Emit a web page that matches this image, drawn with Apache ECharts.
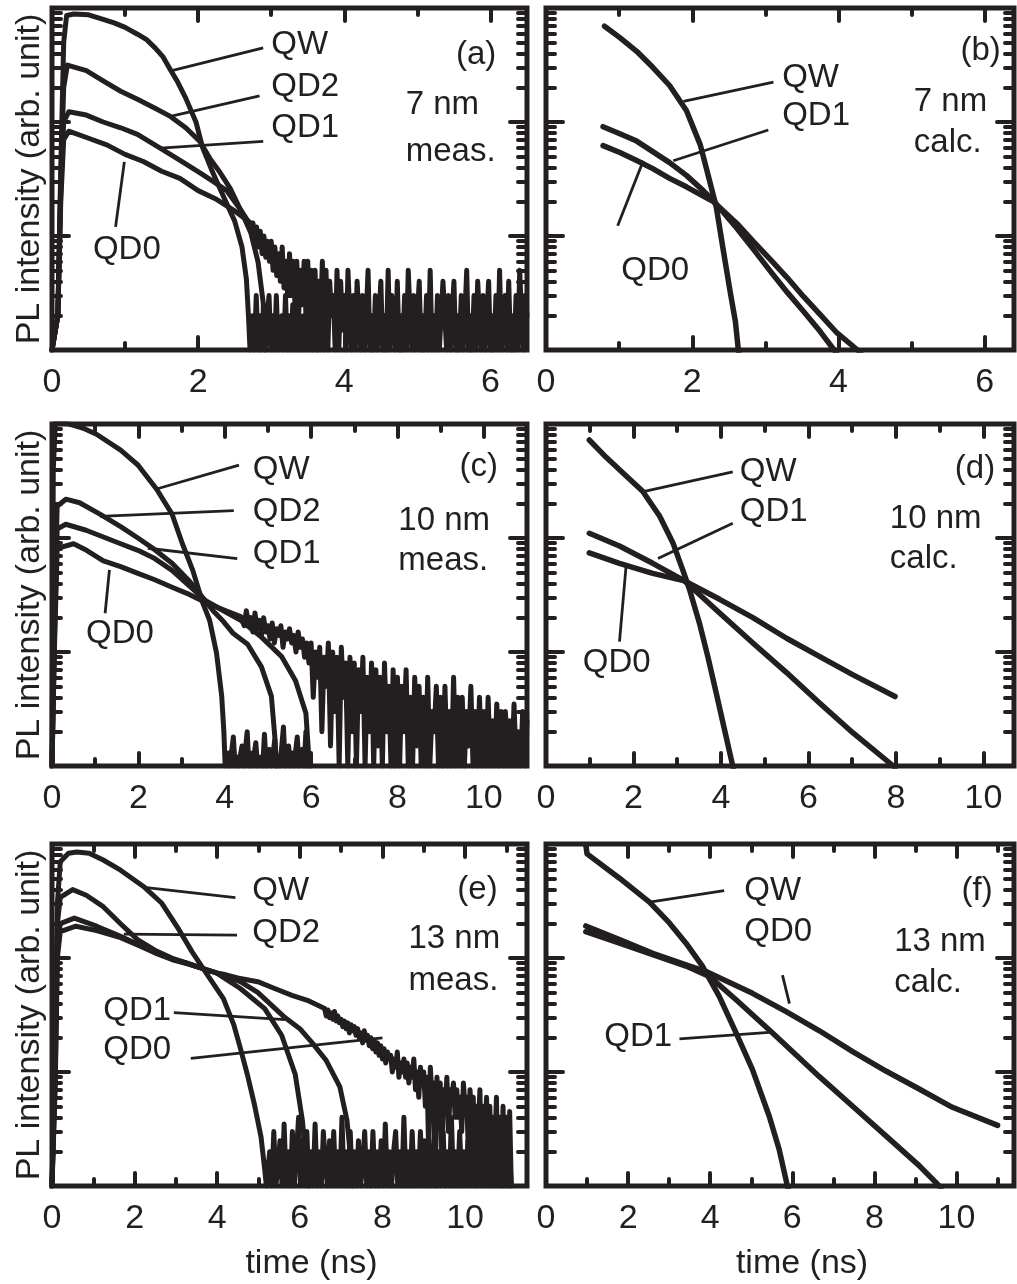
<!DOCTYPE html>
<html><head><meta charset="utf-8">
<script src="https://cdn.jsdelivr.net/npm/echarts@6/dist/echarts.min.js"></script>
<style>html,body{margin:0;padding:0;background:#fff}#c{width:1017px;height:1284px}</style>
</head><body><div id="c"></div>
<script>
// ---------------- DATA (time in ns, PL intensity in arb. units) ----------------
// (a) 7 nm, measured
const a_QW  = [[0,1],[0.08,2],[0.12,40],[0.16,500],[0.2,860],[0.3,885],[0.5,871],[0.7,794],[0.85,741],[1.0,676],[1.17,589],[1.3,525],[1.41,447],[1.52,372],[1.62,288],[1.72,224],[1.83,162],[1.97,100],[2.06,60],[2.2,36],[2.35,22],[2.5,13.5],[2.6,8],[2.66,4.2],[2.69,1.9],[2.71,1]];
const a_QW_floor_t0 = 2.72, a_QW_floor_dt = 0.025;
const a_QW_floor = [1,2,1,3,1,2,1,2.5,1,2,3,1,2,1,3,1,1.5,2,1,3,1,2,1,2.5,1,3,1,2,1,2,1,3,1,2,1,2.5,1,2,1,3];
const a_QD2 = [[0,1],[0.08,2],[0.12,30],[0.16,200],[0.21,316],[0.47,282],[0.7,229],[0.94,186],[1.17,158],[1.41,132],[1.62,112],[1.83,89],[2.02,68],[2.16,48],[2.3,36],[2.44,26],[2.58,17],[2.72,10.7],[2.82,5.9],[2.89,2.6],[2.91,1]];
const a_QD1 = [[0,1],[0.08,2],[0.12,25],[0.16,100],[0.23,123],[0.47,115],[0.7,100],[0.94,89],[1.17,78],[1.48,59],[1.78,45],[2.02,36],[2.21,30],[2.39,25],[2.58,17],[2.7,13],[2.82,10]];
const a_QD0 = [[0,1],[0.08,2],[0.12,20],[0.16,70],[0.23,83],[0.5,72],[0.75,63],[1.0,52],[1.25,45],[1.5,37],[1.75,32],[2.0,25],[2.25,21],[2.5,16.6],[2.72,13]];
const a_QD0_tail_t0 = 2.75, a_QD0_tail_dt = 0.025;
const a_QD0_tail = [13,9,12,8,11,7,10,6.5,9,6, 9,5,8,4.5,7,4,8,3.5,6,3, 7,3,6,2.5,6,2,5,2.5,6,2, 6,1.5,5,2,5,1,4,2,6,1, 5,1,4,2,3,1,5,1,4,1.5, 3,1,5,2,1,3,1,4,2,1, 3,1,2,5,1,2,1,3,1,2, 4,1,2,1,5,1,3,2,1,4, 1,2,1,3,1,5,2,1,3,1, 2,4,1,2,1,3,1,5,1,2, 1,3,1,1,4,2,1,3,1,2, 4,1,2,1,3,1,2,5,1,2, 1,3,1,4,2,1,3,1,2,4, 1,2,1,3,1,5,1,2,3,1, 4,1,2,1,3,1,5,2,1,3,2];

// (b) 7 nm, calculated
const b_QW  = [[0.80,692],[1.01,550],[1.24,417],[1.46,302],[1.69,209],[1.92,126],[2.11,63],[2.24,30],[2.33,17.8],[2.42,7.8],[2.52,3.2],[2.59,1.78],[2.63,1],[2.66,0.7]];
const b_QD1 = [[0.78,91],[1.01,79],[1.24,68],[1.46,55],[1.69,44],[1.92,34],[2.15,25],[2.29,20.4],[2.61,11.7],[2.84,7.6],[3.07,4.9],[3.30,3.2],[3.52,2.19],[3.75,1.45],[3.94,1],[4.0,0.88]];
const b_QD0 = [[0.78,62],[1.01,54],[1.24,46],[1.46,39],[1.69,32],[1.92,27],[2.15,22.4],[2.29,20],[2.61,12.9],[2.84,8.9],[3.07,6.2],[3.30,4.3],[3.52,2.95],[3.75,2.04],[3.98,1.41],[4.26,1],[4.3,0.95]];

// (c) 10 nm, measured
const c_QW  = [[0,1],[0.03,400],[0.08,1100],[0.3,1020],[0.5,975],[0.75,910],[1.03,813],[1.59,589],[1.99,437],[2.42,269],[2.78,162],[3.02,89],[3.26,52],[3.49,27],[3.65,19],[3.81,9.8],[3.93,4.1],[3.98,2],[4.01,1]];
const c_QW_floor_t0 = 4.04, c_QW_floor_dt = 0.04;
const c_QW_floor = [1,1.3,1,1,1.8,1,1.2,1,1,1.5,1,1,2,1,1.3,1,1,1.6,1,1,1.2,1,1.9,1,1,1.4,1,1,1.7,1,1.2,1,1,2.2,1,1,1.5,1,1.3,1,1,1.8,1,1,1.4,1,2,1,1.2,1];
const c_QD2 = [[0,1],[0.06,25],[0.12,190],[0.32,219],[0.64,204],[1.11,162],[1.59,126],[1.99,100],[2.38,79],[2.78,60],[3.18,42],[3.57,27.5],[3.73,23],[3.97,18.5],[4.2,14.5],[4.53,11.7],[4.85,7.4],[5.08,4.1],[5.16,1.8],[5.2,1]];
const c_QD1 = [[0,1],[0.06,15],[0.12,120],[0.32,132],[0.79,117],[1.19,102],[1.59,89],[1.99,78],[2.38,66],[2.78,52],[3.18,38],[3.57,28],[3.97,23],[4.37,19],[4.85,13.5],[5.32,9.1],[5.64,5.6],[5.88,2.9],[5.96,1]];
const c_QD0 = [[0,1],[0.06,12],[0.12,81],[0.5,89],[0.8,78],[1.19,63],[1.59,56],[1.99,49],[2.38,43],[2.78,37],[3.18,32],[3.57,27],[3.97,23.5],[4.37,20.5]];
const c_QD0_tail_t0 = 4.4, c_QD0_tail_dt = 0.05;
const c_QD0_tail = [21,17,23,18,20,15,22,16,19,14,20,15, 17,13,18,12,16,14,17,11,15,13,16,12, 14,10,15,11,13,9,12,8, 12,4,10,6,11,2,9,5,12,1.5, 10,3,9,1,11,4,8,1,9,2, 8,1,7,3,9,1,6,2,8,1, 7,1.5,6,1,8,2,5,1,7,1, 6,1,5,2,7,1,4,1,6,1.5, 5,1,4,1,6,1,3,2,5,1, 4,1,5,1,3,1,6,1,4,1, 4,1,3,1.5,5,1,3,1,4,1, 3,1,4,1,2.5,1,3.5,1,3,1, 3,1,2.5,1,3.5,1,2,1,3,1,2.5];

// (d) 10 nm, calculated
const d_QW  = [[0.99,724],[1.37,513],[1.76,372],[2.21,257],[2.60,155],[2.90,91],[3.13,52],[3.28,35.5],[3.51,17.8],[3.70,9.1],[3.89,4.4],[4.08,2.1],[4.27,1],[4.3,0.9]];
const d_QD1 = [[0.99,110],[1.68,85],[2.44,60],[3.17,42],[3.97,22],[4.73,12],[5.50,6.6],[6.26,3.55],[7.02,1.95],[7.94,1],[7.98,0.97]];
const d_QD0 = [[0.99,74],[1.68,60],[2.44,49],[3.17,42],[3.97,29],[4.73,20],[5.50,13.2],[6.26,9.1],[7.02,6.3],[7.98,4.07]];

// (e) 13 nm, measured
const e_QW  = [[0,1],[0.08,20],[0.13,300],[0.2,700],[0.4,830],[0.6,850],[0.9,830],[1.24,724],[1.66,589],[2.24,417],[2.66,302],[3.07,178],[3.40,112],[3.73,74],[4.15,44],[4.40,26],[4.56,16.2],[4.73,9.5],[4.9,5.2],[5.06,2.7],[5.15,1.4],[5.19,1]];
const e_QW_floor_t0 = 5.22, e_QW_floor_dt = 0.05;
const e_QW_floor = [1,2,1,3,1,1.5,2.5,1,3.5,1, 2,1,3,1,2,4,1,2.5,1,3, 1,2,1,3.5,1,2,1,3,1.5,1, 2.5,1,3,1,2,1,4,1,2,1, 3,1,2,1,2.5,1,1.5,3,1,2, 1,3,1,2,1,2.5,1,3.5,1,2, 1,2,3,1,2,1,4,1,2,1, 3,1,2,1,3,1,2.5,1,2,1, 2,3,1,2,1,3,1,2,1,4, 1,2,1,3,1,2,1,2.5,1,3, 1,2,1,3.5,1,2,1,3,1,2, 1,3,1,2,1,4,1,2,1];
const e_QD2 = [[0,1],[0.08,15],[0.13,200],[0.2,340],[0.5,398],[0.83,355],[1.24,282],[1.66,200],[2.07,145],[2.49,117],[2.9,100],[3.32,89],[3.73,79],[3.98,74],[4.56,54],[5.15,36],[5.56,21],[5.89,9.5],[6.06,3.8],[6.14,1.95],[6.2,1]];
const e_QD1 = [[0,1],[0.08,10],[0.13,130],[0.2,200],[0.54,224],[1.08,190],[1.66,155],[2.07,132],[2.49,112],[2.9,98],[3.32,89],[3.73,79],[3.98,74],[4.56,62],[4.98,50],[5.64,30],[6.0,24],[6.3,18],[6.64,12.6],[6.97,7.4],[7.14,3.8],[7.22,1.95],[7.26,1]];
const e_QD0 = [[0,1],[0.08,8],[0.13,100],[0.2,170],[0.58,190],[1.08,174],[1.66,151],[2.07,130],[2.49,111],[2.9,97],[3.32,88],[3.73,79],[3.98,74],[4.15,72],[4.56,66],[4.98,62],[5.39,54],[5.81,47],[6.22,42]];
const e_QD0_tail_t0 = 6.6, e_QD0_tail_dt = 0.04;
const e_QD0_tail = [36,31,35,30,33,29,34,28,31,27, 29,25,28,24,27,22,26,23,25,21, 24,20,22,18,23,19,21,17,20,16, 19,15,18,14,17,13,16,12,15,13, 14,10,13,11,15,9,12,10,13,9, 12,8,11,9,13,7,10,6,11,8, 10,5,9,2,11,6,8,1,9,4, 8,1.5,7,5,9,3,7,6,8,4, 7,4,6,3,8,5,6,2,7,4, 6,1,5,3,7,1,5,2,6,1, 5,1,4,2,6,1,4,1,5,1, 4,1,4.5,1];

// (f) 13 nm, calculated
const f_QW  = [[0.97,980],[1.0,820],[1.79,501],[2.52,309],[3.0,204],[3.41,135],[3.81,85],[4.22,46],[4.63,22],[5.03,10.5],[5.44,4.07],[5.68,2.09],[5.88,1],[5.92,0.9]];
const f_QD0 = [[0.97,191],[1.79,145],[2.60,110],[3.41,87],[3.90,76],[5.03,49],[5.84,34],[6.66,23],[7.47,15.1],[8.28,10.2],[9.09,7.1],[9.90,4.9],[11.0,3.4]];
const f_QD1 = [[0.97,170],[1.79,135],[2.60,107],[3.41,85],[3.98,69],[4.63,43],[5.52,22],[6.66,9.1],[7.47,5.0],[8.28,2.75],[9.09,1.51],[9.58,1],[9.62,0.95]];

// tick values
const xLabels6 = [0,2,4,6];
const xLabels10 = [0,2,4,6,8,10];
const yMajor = [1,10,100,1000];
const yMinor = [2,3,4,5,6,7,8,9,20,30,40,50,60,70,80,90,200,300,400,500,600,700,800,900];

// annotations: [text, time, log10(intensity), align] and leader lines [t1, log1, t2, log2]
const notes = {
  a:[['QW',3.0,2.68,'left'],['QD2',3.0,2.31,'left'],['QD1',3.0,1.95,'left'],['QD0',0.56,0.88,'left'],['(a)',6.08,2.59,'right'],['7 nm',4.84,2.15,'left'],['meas.',4.84,1.74,'left']],
  b:[['QW',3.23,2.39,'left'],['QD1',3.23,2.05,'left'],['QD0',1.03,0.69,'left'],['(b)',6.22,2.62,'right'],['7 nm',5.03,2.18,'left'],['calc.',5.03,1.82,'left']],
  c:[['QW',4.65,2.60,'left'],['QD2',4.65,2.23,'left'],['QD1',4.65,1.86,'left'],['QD0',0.79,1.16,'left'],['(c)',10.33,2.62,'right'],['10 nm',8.02,2.15,'left'],['meas.',8.02,1.80,'left']],
  d:[['QW',4.43,2.58,'left'],['QD1',4.43,2.23,'left'],['QD0',0.84,0.90,'left'],['(d)',10.27,2.61,'right'],['10 nm',7.86,2.17,'left'],['calc.',7.86,1.82,'left']],
  e:[['QW',4.85,2.59,'left'],['QD2',4.85,2.22,'left'],['QD1',1.24,1.54,'left'],['QD0',1.24,1.19,'left'],['(e)',10.79,2.60,'right'],['13 nm',8.63,2.17,'left'],['meas.',8.63,1.80,'left']],
  f:[['QW',4.83,2.59,'left'],['QD0',4.83,2.23,'left'],['QD1',1.42,1.31,'left'],['(f)',10.88,2.59,'right'],['13 nm',8.48,2.14,'left'],['calc.',8.48,1.78,'left']]
};
const leaders = {
  a:[[2.89,2.65,1.64,2.45],[2.84,2.23,1.62,2.05],[2.89,1.83,1.48,1.77],[0.87,1.08,0.99,1.65]],
  b:[[3.11,2.35,1.88,2.18],[3.04,1.93,1.74,1.66],[0.98,1.09,1.33,1.66]],
  c:[[4.33,2.64,2.42,2.43],[4.21,2.24,1.11,2.19],[4.29,1.82,2.22,1.91],[1.23,1.34,1.33,1.72]],
  d:[[4.27,2.58,2.25,2.41],[4.27,2.13,2.56,1.82],[1.68,1.09,1.83,1.75]],
  e:[[4.44,2.53,2.24,2.62],[4.48,2.20,1.74,2.21],[2.95,1.52,5.64,1.46],[3.36,1.12,8.0,1.30]],
  f:[[4.34,2.59,2.52,2.49],[5.76,1.85,5.93,1.60],[3.25,1.29,5.52,1.35]]
};

// ---------------- BUILD ----------------
function withTail(pts, t0, dt, vals){ return pts.concat(vals.map((v,i)=>[+(t0+i*dt).toFixed(4), v])); }

const FONT = '"Liberation Sans", Arial, Helvetica, sans-serif';
const INK = '#231f20';
const ROWS = [[8,350],[424,766],[844,1186]];
const COLS = [[52,527],[546,1014]];

const panels = [
  {key:'a', row:0, col:0, xMax:6.5, xl:xLabels6, lw:5, data:[withTail(a_QW,a_QW_floor_t0,a_QW_floor_dt,a_QW_floor), a_QD2, a_QD1, withTail(a_QD0,a_QD0_tail_t0,a_QD0_tail_dt,a_QD0_tail)]},
  {key:'b', row:0, col:1, xMax:6.4, xl:xLabels6, lw:5.5, data:[b_QW, b_QD1, b_QD0]},
  {key:'c', row:1, col:0, xMax:11, xl:xLabels10, lw:5, data:[withTail(c_QW,c_QW_floor_t0,c_QW_floor_dt,c_QW_floor), c_QD2, c_QD1, withTail(c_QD0,c_QD0_tail_t0,c_QD0_tail_dt,c_QD0_tail)]},
  {key:'d', row:1, col:1, xMax:10.7, xl:xLabels10, lw:5.5, data:[d_QW, d_QD1, d_QD0]},
  {key:'e', row:2, col:0, xMax:11.5, xl:xLabels10, lw:5, data:[withTail(e_QW,e_QW_floor_t0,e_QW_floor_dt,e_QW_floor), e_QD2, e_QD1, withTail(e_QD0,e_QD0_tail_t0,e_QD0_tail_dt,e_QD0_tail)]},
  {key:'f', row:2, col:1, xMax:11.4, xl:xLabels10, lw:5.5, data:[f_QW, f_QD0, f_QD1]}
];

const grid = [], xAxis = [], yAxis = [], series = [];
const tickStyle = {color:INK, width:4, cap:'round'};
panels.forEach((p, i) => {
  const [top, bottom] = ROWS[p.row], [left, right] = COLS[p.col];
  grid.push({left, top, width:right-left, height:bottom-top, show:true, borderColor:INK, borderWidth:5, backgroundColor:'transparent'});
  const majors = [], minors = [];
  for (let v = 0; v <= p.xMax; v++) (v % 2 === 0 ? majors : minors).push(v);
  const xa = (pos, vals, len, extra) => Object.assign({
    type:'value', gridIndex:i, position:pos, min:0, max:p.xMax,
    axisLine:{show:false, onZero:false}, splitLine:{show:false},
    axisTick:{show:true, inside:true, length:len, customValues:vals, lineStyle:tickStyle},
    axisLabel:{show:false}
  }, extra||{});
  xAxis.push(xa('bottom', majors, 13, {
    axisLabel:{show:true, customValues:p.xl, fontSize:34, fontFamily:FONT, color:INK, margin:16},
    name: p.row === 2 ? 'time (ns)' : '', nameLocation:'middle', nameGap:61,
    nameTextStyle:{fontSize:34, fontFamily:FONT, color:INK, padding:[0,0,0,44]}
  }));
  xAxis.push(xa('bottom', minors, 7));
  xAxis.push(xa('top', majors, 13));
  xAxis.push(xa('top', minors, 7));
  const ya = (pos, vals, len, extra) => Object.assign({
    type:'log', logBase:10, gridIndex:i, position:pos, min:1, max:1000,
    axisLine:{show:false, onZero:false}, splitLine:{show:false},
    axisTick:{show:true, inside:true, length:len, customValues:vals, lineStyle:tickStyle},
    axisLabel:{show:false}
  }, extra||{});
  yAxis.push(ya('left', yMajor, 17, p.col === 0 ? {
    name:'PL intensity (arb. unit)', nameLocation:'middle', nameRotate:90, nameGap:5,
    nameTextStyle:{fontSize:34, fontFamily:FONT, color:INK}
  } : {}));
  yAxis.push(ya('left', yMinor, 9));
  yAxis.push(ya('right', yMajor, 17));
  yAxis.push(ya('right', yMinor, 9));
  p.firstSeries = series.length;
  p.data.forEach(d => series.push({
    type:'line', xAxisIndex:4*i, yAxisIndex:4*i, data:d, showSymbol:false, symbol:'none',
    clip:true, silent:true, lineStyle:{color:INK, width:p.lw, cap:'round', join:'round'}
  }));
});

const chart = echarts.init(document.getElementById('c'), null, {renderer:'canvas'});
chart.setOption({animation:false, backgroundColor:'#fff', grid, xAxis, yAxis, series});

const gfx = [];
panels.forEach(p => {
  const px = (t, lg) => chart.convertToPixel({seriesIndex:p.firstSeries}, [t, Math.pow(10, lg)]);
  leaders[p.key].forEach(l => {
    const a = px(l[0], l[1]), b = px(l[2], l[3]);
    gfx.push({type:'line', z:100, shape:{x1:a[0], y1:a[1], x2:b[0], y2:b[1]}, style:{stroke:INK, lineWidth:2.8}});
  });
  notes[p.key].forEach(n => {
    const a = px(n[1], n[2]);
    gfx.push({type:'text', z:100, x:a[0], y:a[1], style:{text:n[0], fill:INK, fontSize:33, fontFamily:FONT,
      align:n[3], verticalAlign:'middle', textAlign:n[3], textVerticalAlign:'middle'}});
  });
});
chart.setOption({graphic: gfx});
</script></body></html>
